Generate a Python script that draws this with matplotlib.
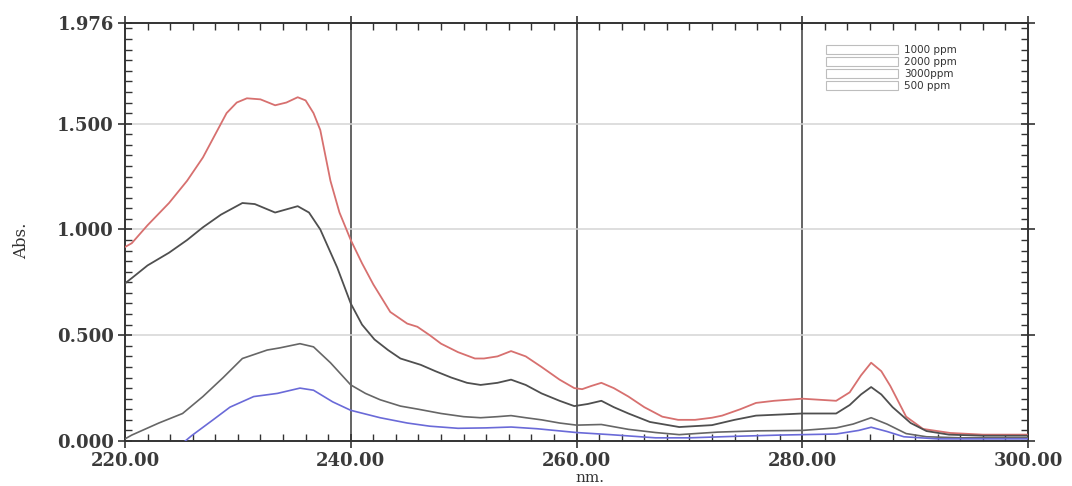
import numpy as np
import matplotlib
matplotlib.use("Agg")
import matplotlib.pyplot as plt
from matplotlib.ticker import MultipleLocator, FixedLocator
from matplotlib.patches import Patch

nm_3000 = [220, 220.6, 222, 223.9, 225.5, 226.9, 228, 229, 229.9, 230.8, 232, 233.3, 234.3,
           235.3, 236, 236.7, 237.3, 238.2, 239, 240, 241, 242, 243.5, 245, 245.9, 247, 248,
           249.5, 251, 251.8, 253, 254.2, 255.5, 256.9, 258.5, 259.8, 260.5, 261.3, 262.2,
           263.3, 264.6, 266, 267.6, 269, 270.5, 272, 272.9, 274.5, 275.9, 277.5, 280, 283,
           284.2, 285.2, 286.1, 287, 287.8, 289.2, 290.7, 293.1, 296, 300]
abs_3000 = [0.917, 0.935, 1.02, 1.125, 1.23, 1.34, 1.45, 1.55, 1.60, 1.62, 1.615, 1.587, 1.60,
            1.625, 1.61, 1.55, 1.47, 1.23, 1.08, 0.95, 0.84, 0.74, 0.61, 0.555, 0.54, 0.50, 0.46,
            0.42, 0.39, 0.39, 0.40, 0.425, 0.40, 0.35, 0.29, 0.25, 0.245, 0.26, 0.275,
            0.25, 0.21, 0.16, 0.115, 0.10, 0.10, 0.11, 0.12, 0.15, 0.18, 0.19, 0.20, 0.19,
            0.23, 0.31, 0.37, 0.33, 0.26, 0.115, 0.057, 0.038, 0.03, 0.03]

nm_2000 = [220, 220.6, 222, 223.9, 225.5, 226.9, 228.5, 230.4, 231.5, 233.3, 234.3, 235.3, 236.3,
           237.3, 238.8, 240, 241, 242.1, 243.3, 244.4, 246.2, 247.5, 248.9, 250.3, 251.5, 253,
           254.2, 255.5, 256.9, 258.5, 259.8, 261, 262.2, 263.3, 264.6, 266.5, 269.1, 272, 274,
           275.9, 278, 280, 283, 284.2, 285.2, 286.1, 287, 288, 289.6, 291, 293, 296, 300]
abs_2000 = [0.745, 0.77, 0.83, 0.89, 0.95, 1.01, 1.07, 1.125, 1.12, 1.08, 1.095, 1.11, 1.08,
            1.0, 0.82, 0.65, 0.55, 0.48, 0.43, 0.39, 0.36, 0.33, 0.30, 0.275, 0.265, 0.275,
            0.29, 0.265, 0.225, 0.19, 0.165, 0.175, 0.19, 0.16, 0.13, 0.09, 0.066, 0.075, 0.10,
            0.12, 0.125, 0.13, 0.13, 0.17, 0.22, 0.255, 0.22, 0.16, 0.085, 0.047, 0.03, 0.025, 0.025]

nm_1000 = [220, 220.6, 223, 225.1, 226.9, 228.7, 230.4, 232.6, 233.7, 235.5, 236.7, 238.2, 240,
           241.3, 242.6, 244.4, 246, 248, 250, 251.5, 253, 254.2, 255.5, 256.9, 258.5, 260,
           262.2, 264.6, 267, 269.1, 272.5, 276, 280, 283, 284.5, 286.1, 287.5, 289.2, 291, 294, 300]
abs_1000 = [0.01, 0.028, 0.085, 0.13, 0.21, 0.30, 0.39, 0.43, 0.44, 0.46, 0.445, 0.37, 0.265,
            0.225, 0.195, 0.165, 0.15, 0.13, 0.115, 0.11, 0.115, 0.12, 0.11, 0.10, 0.085, 0.075,
            0.078, 0.055, 0.04, 0.03, 0.042, 0.048, 0.05, 0.062, 0.08, 0.11, 0.08, 0.035, 0.02,
            0.015, 0.015]

nm_500 = [224, 225.9, 227.8, 229.3, 231.4, 233.5, 235.5, 236.7, 238.4, 240, 242.6, 245, 247,
          249.5, 252, 254.2, 256.5, 260, 263, 267, 270, 274, 278, 280, 283, 285, 286.1, 287.5,
          289, 292, 300]
abs_500 = [-0.06, 0.025, 0.10, 0.16, 0.21, 0.225, 0.25, 0.24, 0.185, 0.145, 0.11, 0.085, 0.07,
           0.06, 0.062, 0.066, 0.058, 0.04, 0.03, 0.015, 0.015, 0.022, 0.028, 0.03, 0.033, 0.05,
           0.065, 0.045, 0.02, 0.01, 0.01]

legend_labels = ['1000 ppm', '2000 ppm', '3000ppm', '500 ppm']
y_ticks = [0.0, 0.5, 1.0, 1.5, 1.976]
x_ticks = [220, 240, 260, 280, 300]

fig = plt.figure(figsize=(10.72, 4.86), dpi=100)
ax = fig.add_axes([0.1166, 0.0926, 0.8424, 0.8601])

# Rejilla: verticales oscuras, horizontales claras
for xv in x_ticks[1:-1]:
    ax.axvline(xv, color='#3a3a3a', lw=1.1, zorder=1)
for yv in y_ticks[1:-1]:
    ax.axhline(yv, color='#d4d4d4', lw=1.1, zorder=1)

ax.plot(nm_3000, abs_3000, color='#d7706f', lw=1.3, zorder=3)
ax.plot(nm_2000, abs_2000, color='#4f4f4f', lw=1.3, zorder=3)
ax.plot(nm_1000, abs_1000, color='#666666', lw=1.2, zorder=3)
ax.plot(nm_500, abs_500, color='#6a6ad8', lw=1.2, zorder=3)

ax.set_xlim(220, 300)
ax.set_ylim(0, 1.976)

ax.xaxis.set_major_locator(FixedLocator(x_ticks))
ax.xaxis.set_minor_locator(MultipleLocator(2))
ax.yaxis.set_major_locator(FixedLocator(y_ticks))
ax.yaxis.set_minor_locator(MultipleLocator(0.05))
ax.set_xticklabels(['%.2f' % v for v in x_ticks])
ax.set_yticklabels(['%.3f' % v for v in y_ticks])

ax.tick_params(which='major', direction='inout', length=10, width=1.2,
               top=True, right=True, colors='#333333')
ax.tick_params(which='minor', direction='in', length=5, width=1.0,
               top=True, right=True, colors='#333333')
ax.tick_params(axis='both', which='major', labelsize=13, labelcolor='#3a3a3a', pad=3)
for lab in ax.get_xticklabels() + ax.get_yticklabels():
    lab.set_family('DejaVu Serif')
    lab.set_weight('bold')

for s in ax.spines.values():
    s.set_color('#333333')
    s.set_linewidth(1.4)

ax.set_ylabel('Abs.', family='DejaVu Serif', fontsize=12, color='#333333')
ax.yaxis.set_label_coords(-0.105, 0.48)
ax.set_xlabel('nm.', family='DejaVu Serif', fontsize=11, color='#333333')
ax.xaxis.set_label_coords(0.515, -0.072)

handles = [Patch(facecolor='white', edgecolor='#bdbdbd', lw=0.8) for _ in legend_labels]
ax.legend(handles, legend_labels, loc='upper left', bbox_to_anchor=(0.77, 0.96),
          frameon=False, fontsize=7.5, handlelength=7, handleheight=0.9,
          labelspacing=0.2, handletextpad=0.5, borderpad=0,
          labelcolor='#333333')

fig.savefig('out.png', dpi=100)
